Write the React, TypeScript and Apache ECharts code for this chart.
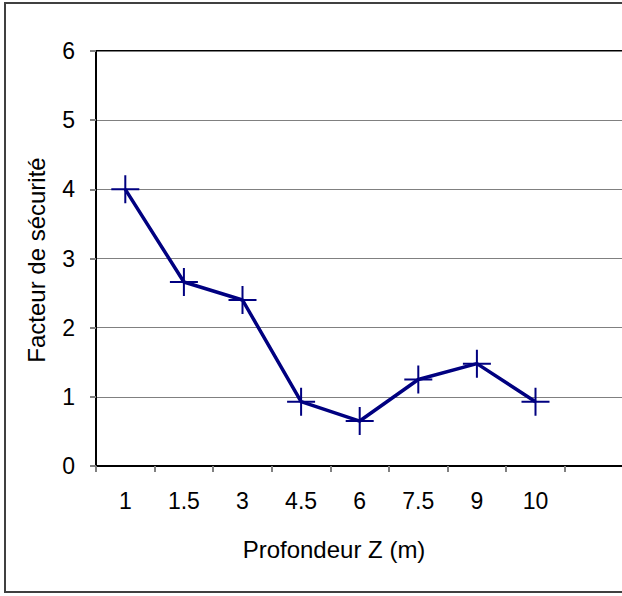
import React, { useEffect, useRef } from "react";
import * as echarts from "echarts";

const categories = ["1", "1.5", "3", "4.5", "6", "7.5", "9", "10", ""];
const safetyFactor = [4.0, 2.66, 2.4, 0.93, 0.65, 1.25, 1.48, 0.93];
const yTicks = { min: 0, max: 6, interval: 1 };
const xTitle = "Profondeur Z (m)";
const yTitle = "Facteur de sécurité";

const FONT = "Liberation Sans, Arial, sans-serif";

export default function App() {
  const ref = useRef<HTMLDivElement>(null);
  useEffect(() => {
    if (!ref.current) return;
    const chart = echarts.init(ref.current, null, { renderer: "svg" });
    chart.setOption({
      animation: false,
      backgroundColor: "#fff",
      textStyle: { fontFamily: FONT },
      grid: {
        left: 96,
        top: 51,
        width: 527.4,
        height: 415,
        show: true,
        borderColor: "#000",
        borderWidth: 2,
        backgroundColor: "transparent",
      },
      xAxis: {
        type: "category",
        data: categories,
        boundaryGap: true,
        axisLine: { show: true, lineStyle: { color: "#000", width: 2 } },
        axisTick: { show: true, length: 6, lineStyle: { color: "#808080", width: 2 } },
        axisLabel: { color: "#000", fontSize: 23, fontFamily: FONT, margin: 23 },
        splitLine: { show: false },
      },
      yAxis: {
        type: "value",
        min: yTicks.min,
        max: yTicks.max,
        interval: yTicks.interval,
        axisLine: { show: true, lineStyle: { color: "#000", width: 2 } },
        axisTick: { show: true, length: 6, lineStyle: { color: "#808080", width: 2 } },
        axisLabel: { color: "#000", fontSize: 23, fontFamily: FONT, margin: 21 },
        splitLine: { show: true, lineStyle: { color: "#808080", width: 1 } },
      },
      graphic: [
        {
          type: "rect",
          shape: { x: 5, y: 3, width: 700, height: 589 },
          style: { fill: "none", stroke: "#404040", lineWidth: 2 },
          silent: true,
          z: -10,
        },
        {
          type: "text",
          x: 334,
          y: 549,
          style: {
            text: xTitle,
            fontSize: 24,
            fontFamily: FONT,
            fill: "#000",
            textAlign: "center",
            textVerticalAlign: "middle",
          },
        },
        {
          type: "text",
          x: 36,
          y: 260,
          rotation: Math.PI / 2,
          style: {
            text: yTitle,
            fontSize: 24,
            fontFamily: FONT,
            fill: "#000",
            textAlign: "center",
            textVerticalAlign: "middle",
          },
        },
      ],
      series: [
        {
          type: "line",
          data: safetyFactor,
          symbol: "path://M14,0 L14,28 M0,14 L28,14",
          symbolSize: 28,
          showSymbol: true,
          itemStyle: { color: "transparent", borderColor: "#000080", borderWidth: 2 },
          lineStyle: { color: "#000080", width: 3.5 },
          z: 5,
        },
      ],
    });
    return () => chart.dispose();
  }, []);
  return (
    <div style={{ position: "fixed", left: 0, top: 0, width: 622, height: 596, overflow: "hidden", background: "#fff" }}>
      <div ref={ref} style={{ width: 640, height: 596 }} />
    </div>
  );
}
